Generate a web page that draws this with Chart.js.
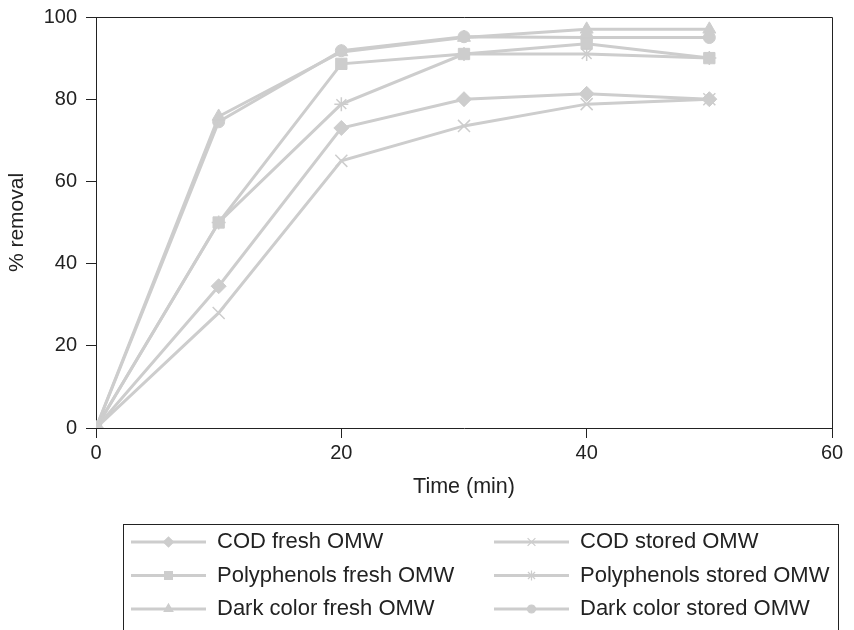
<!DOCTYPE html>
<html>
<head>
<meta charset="utf-8">
<script src="https://cdn.jsdelivr.net/npm/chart.js@4/dist/chart.umd.min.js"></script>
<style>
  html, body { margin: 0; padding: 0; background: #fff; }
  #wrap { width: 854px; height: 630px; position: relative; }
</style>
</head>
<body>
<div id="wrap"><canvas id="removalChart" width="854" height="630"></canvas></div>
<script>
// time points (min)
const times = [0, 10, 20, 30, 40, 50];

// % removal
const codFresh = [0, 34.5, 73, 80, 81.3, 80];
const codStored = [0, 28, 65, 73.5, 78.8, 80];
const polyFresh = [0, 50, 88.6, 91, 93.5, 90];
const polyStored = [0, 50, 78.8, 91, 91, 90];
const darkFresh = [0, 75.8, 91.5, 95, 97, 97];
const darkStored = [0, 74.5, 91.8, 95.2, 95, 95];

const seriesNames = [
    'COD fresh OMW', 'COD stored OMW',
    'Polyphenols fresh OMW', 'Polyphenols stored OMW',
    'Dark color fresh OMW', 'Dark color stored OMW'
];
const seriesValues = [codFresh, codStored, polyFresh, polyStored, darkFresh, darkStored];
const seriesMarkers = ['rectRot', 'crossRot', 'rect', 'star', 'triangle', 'circle'];
const markerSizes = [7.5, 8.5, 8, 7, 7.5, 6];
const legendSizes = [5, 5.5, 5.5, 5, 5, 4];

const xTicks = [0, 20, 40, 60];
const yTicks = [0, 20, 40, 60, 80, 100];

const gray = '#cdcdcd';
const ink = '#222';
const fontFamily = '"Liberation Sans", Arial, Helvetica, sans-serif';

const datasets = seriesNames.map((name, i) => ({
    label: name,
    data: times.map((t, j) => ({ x: t, y: seriesValues[i][j] })),
    borderColor: gray,
    backgroundColor: gray,
    borderWidth: 3,
    tension: 0,
    pointStyle: seriesMarkers[i],
    pointRadius: markerSizes[i],
    pointBackgroundColor: gray,
    pointBorderColor: gray,
    pointBorderWidth: (seriesMarkers[i] === 'crossRot' || seriesMarkers[i] === 'star') ? 1.5 : 1
}));

// top and right edges of the plot box
const frame = {
    id: 'frame',
    beforeDatasetsDraw(chart) {
        const { ctx, chartArea: a } = chart;
        ctx.save();
        ctx.strokeStyle = ink;
        ctx.lineWidth = 1;
        ctx.beginPath();
        ctx.moveTo(a.left, a.top + 0.5);
        ctx.lineTo(a.right + 0.5, a.top + 0.5);
        ctx.lineTo(a.right + 0.5, a.bottom);
        ctx.stroke();
        ctx.restore();
    }
};

// boxed two-column legend under the plot
const boxLegend = {
    id: 'boxLegend',
    afterDraw(chart) {
        const ctx = chart.ctx;
        ctx.save();
        ctx.strokeStyle = ink;
        ctx.lineWidth = 1;
        ctx.strokeRect(123.5, 524.5, 715, 200);
        chart.data.datasets.forEach((ds, i) => {
            const col = i % 2;
            const row = Math.floor(i / 2);
            const x0 = col === 0 ? 131 : 494;
            const y = 542 + row * 33.5;
            ctx.strokeStyle = gray;
            ctx.fillStyle = gray;
            ctx.lineWidth = 3;
            ctx.beginPath();
            ctx.moveTo(x0, y);
            ctx.lineTo(x0 + 75, y);
            ctx.stroke();
            ctx.lineWidth = 1.2;
            Chart.helpers.drawPoint(ctx, {
                pointStyle: ds.pointStyle,
                radius: legendSizes[i],
                rotation: 0,
                borderWidth: 1
            }, x0 + 37.5, y);
            ctx.fillStyle = ink;
            ctx.font = '22px ' + fontFamily;
            ctx.textBaseline = 'middle';
            ctx.textAlign = 'left';
            ctx.fillText(ds.label, x0 + 86, y);
        });
        ctx.restore();
    }
};

new Chart(document.getElementById('removalChart').getContext('2d'), {
    type: 'line',
    data: { datasets: datasets },
    options: {
        responsive: false,
        animation: false,
        layout: { padding: { top: 17, right: 22, bottom: 122, left: 0 } },
        plugins: {
            legend: { display: false },
            tooltip: { enabled: false }
        },
        scales: {
            x: {
                type: 'linear',
                min: 0,
                max: 60,
                afterBuildTicks: scale => { scale.ticks = xTicks.map(v => ({ value: v })); },
                afterFit: scale => { scale.height = 80; },
                grid: { drawOnChartArea: false, drawTicks: true, tickLength: 10, color: ink },
                border: { display: true, color: ink, width: 1 },
                ticks: { color: ink, padding: 3, maxRotation: 0, font: { family: fontFamily, size: 20 } },
                title: {
                    display: true,
                    text: 'Time (min)',
                    color: ink,
                    padding: { top: 0, bottom: 8 },
                    font: { family: fontFamily, size: 21.5 }
                }
            },
            y: {
                min: 0,
                max: 100,
                afterBuildTicks: scale => { scale.ticks = yTicks.map(v => ({ value: v })); },
                afterFit: scale => {
                    scale.width = 96;
                    scale.paddingTop = 0;
                    scale.paddingBottom = 0;
                },
                grid: { drawOnChartArea: false, drawTicks: true, tickLength: 10, color: ink },
                border: { display: true, color: ink, width: 1 },
                ticks: { color: ink, padding: 9, font: { family: fontFamily, size: 20 } },
                title: {
                    display: true,
                    text: '% removal',
                    color: ink,
                    padding: { top: 5, bottom: 0 },
                    font: { family: fontFamily, size: 21 }
                }
            }
        }
    },
    plugins: [frame, boxLegend]
});
</script>
</body>
</html>
